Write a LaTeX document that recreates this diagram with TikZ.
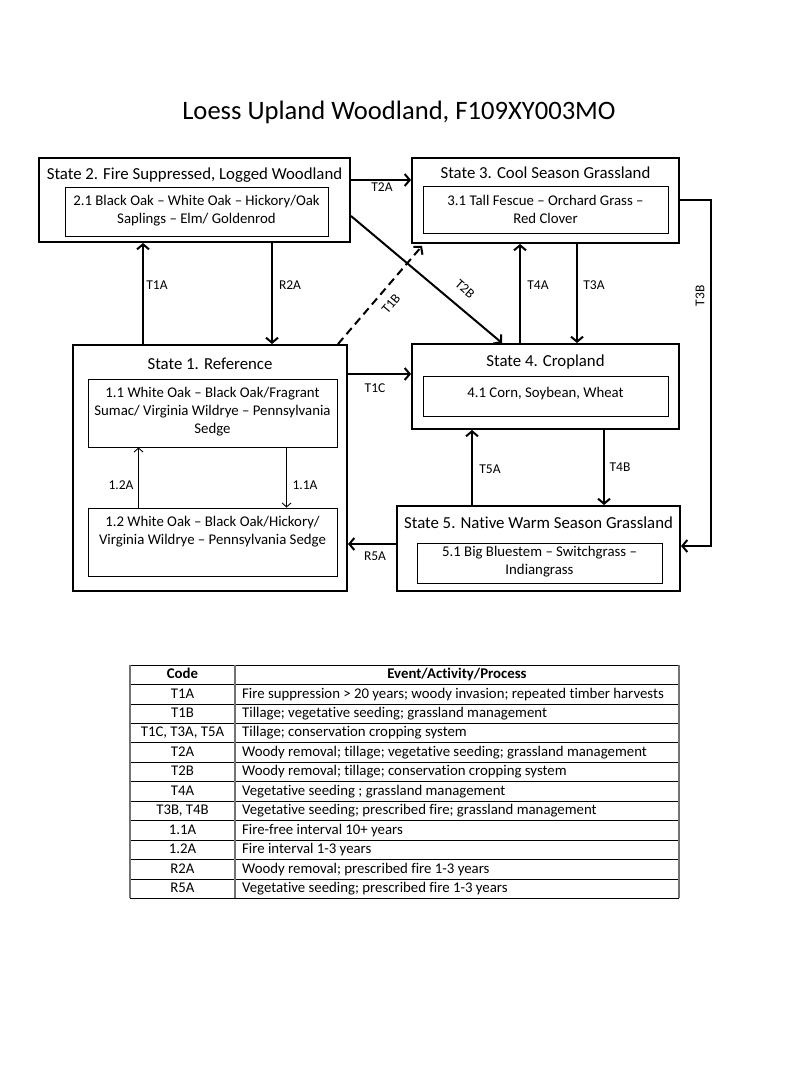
\documentclass[tikz,border=0pt]{standalone}
\usepackage{fontspec}
\setmainfont{Carlito}[Ligatures={NoCommon,TeX}]
\usetikzlibrary{arrows.meta}
\begin{document}
\begin{tikzpicture}[x=1pt,y=-1pt,
  statebox/.style={draw,line width=2pt,inner sep=0pt},
  innerbox/.style={draw,line width=0.9pt,inner sep=0pt},
  stitle/.style={inner sep=0pt,font=\fontsize{16.8}{19}\selectfont},
  itext/.style={inner sep=0pt,align=center,font=\fontsize{14.8}{18}\selectfont},
  lbl/.style={inner sep=0pt,font=\fontsize{13.5}{15}\selectfont},
  arr/.style={line width=2pt,-{Straight Barb[length=5pt,width=12pt]}},
  tarr/.style={line width=0.9pt,-{Straight Barb[length=4pt,width=9pt]}},
  tcell/.style={inner sep=0pt,text height=9pt,text depth=3pt,font=\fontsize{14.8}{16}\selectfont},
  tbold/.style={tcell,font=\fontsize{14.8}{16}\bfseries},
  hline/.style={line width=0.8pt,black},
  vline/.style={line width=1.5pt,black!55}
]
\useasboundingbox (0,0) rectangle (800,1067);
\fill[white] (0,0) rectangle (800,1067);

% title
\node[inner sep=0pt,font=\fontsize{26.6}{31}\selectfont] (title) at (399,112) {Loess Upland Woodland, F109XY003MO};

% State 2
\node[statebox,minimum width=311pt,minimum height=84pt] (s2) at (194.5,200) {};
\node[stitle] (s2t) at (194.5,175) {State 2. Fire Suppressed, Logged Woodland};
\node[innerbox,minimum width=263pt,minimum height=49pt] (i21) at (196.5,211.5) {};
\node[itext] (i21t) at (196.5,211) {2.1 Black Oak -- White Oak -- Hickory/Oak\\Saplings -- Elm/ Goldenrod};

% State 3
\node[statebox,minimum width=267pt,minimum height=85pt] (s3) at (545.5,200.5) {};
\node[stitle] (s3t) at (545.5,173) {State 3. Cool Season Grassland};
\node[innerbox,minimum width=245pt,minimum height=47pt] (i31) at (545.5,209.5) {};
\node[itext] (i31t) at (545.5,209.5) {3.1 Tall Fescue -- Orchard Grass --\\Red Clover};

% State 1
\node[statebox,minimum width=274pt,minimum height=246pt] (s1) at (210,468) {};
\node[stitle] (s1t) at (210,364) {State 1. Reference};
\node[innerbox,minimum width=249pt,minimum height=68pt] (i11) at (212.5,413) {};
\node[itext] (i11t) at (212.5,412) {1.1 White Oak -- Black Oak/Fragrant\\Sumac/ Virginia Wildrye -- Pennsylvania\\Sedge};
\node[innerbox,minimum width=249pt,minimum height=68pt] (i12) at (212.5,542) {};
\node[itext] (i12t) at (212.5,532) {1.2 White Oak -- Black Oak/Hickory/\\Virginia Wildrye -- Pennsylvania Sedge};

% State 4
\node[statebox,minimum width=267pt,minimum height=85pt] (s4) at (545.5,386.5) {};
\node[stitle] (s4t) at (545.5,362) {State 4. Cropland};
\node[innerbox,minimum width=245pt,minimum height=40pt] (i41) at (545.5,396) {};
\node[itext] (i41t) at (545.5,394) {4.1 Corn, Soybean, Wheat};

% State 5
\node[statebox,minimum width=283pt,minimum height=85pt] (s5) at (538.5,548.5) {};
\node[stitle] (s5t) at (538.5,523) {State 5. Native Warm Season Grassland};
\node[innerbox,minimum width=245pt,minimum height=40pt] (i51) at (539.5,563) {};
\node[itext] (i51t) at (539.5,562) {5.1 Big Bluestem -- Switchgrass --\\Indiangrass};

% connectors
\coordinate (t2a) at ([yshift=-23pt]s2.north east);
\draw[arr] (t2a) -- (t2a -| s3.west);
\node[lbl] at (382,187) {T2A};

\coordinate (t1a) at ([xshift=71pt]s1.north west);
\draw[arr] (t1a) -- (t1a |- s2.south);
\node[lbl] at (157,285) {T1A};

\coordinate (r2a) at ([xshift=234pt]s2.south west);
\draw[arr] (r2a) -- (r2a |- s1.north);
\node[lbl] at (290,285) {R2A};

\coordinate (t1bs) at ([xshift=-10pt]s1.north east);
\coordinate (t1be) at ([xshift=11pt,yshift=-2pt]s3.south west);
\draw[arr,dash pattern=on 8pt off 5pt] (t1bs) -- (t1be);
\node[lbl,rotate=50] at (391,304) {T1B};

\coordinate (t2bs) at ([yshift=-59pt]s2.north east);
\coordinate (t2be) at ([xshift=91pt]s4.north west);
\draw[arr] (t2bs) -- (t2be);
\node[lbl,rotate=-41] at (465,289) {T2B};

\coordinate (t4a) at ([xshift=109pt]s4.north west);
\draw[arr] (t4a) -- (t4a |- s3.south);
\node[lbl] at (538,285) {T4A};

\coordinate (t3a) at ([xshift=166pt]s3.south west);
\draw[arr] (t3a) -- (t3a |- s4.north);
\node[lbl] at (594,285) {T3A};

\coordinate (t1c) at ([yshift=-30pt]s1.north east);
\draw[arr] (t1c) -- (t1c -| s4.west);
\node[lbl] at (375,388) {T1C};

\coordinate (t5a) at ([xshift=76pt]s5.north west);
\draw[arr] (t5a) -- (t5a |- s4.south);
\node[lbl] at (490,469) {T5A};

\coordinate (t4b) at ([xshift=193pt]s4.south west);
\draw[arr] (t4b) -- (t4b |- s5.north);
\node[lbl] at (620,467) {T4B};

\coordinate (r5a) at ([yshift=-39pt]s5.north west);
\draw[arr] (r5a) -- (r5a -| s1.east);
\node[lbl] at (375,556) {R5A};

\coordinate (t3bs) at ([yshift=-43pt]s3.north east);
\coordinate (t3be) at ([yshift=-41pt]s5.north east);
\draw[arr] (t3bs) -- ++(31,0) |- (t3be);
\node[lbl,rotate=90] at (700,296) {T3B};

\coordinate (a12) at ([xshift=51pt]i12.north west);
\draw[tarr] (a12) -- (a12 |- i11.south);
\node[lbl] at (121,485) {1.2A};

\coordinate (a11) at ([xshift=199pt]i11.south west);
\draw[tarr] (a11) -- (a11 |- i12.north);
\node[lbl] at (305,485) {1.1A};

% table
\foreach \k in {0,...,12} {
  \draw[hline] (130,{665+19.45*\k}) -- (679,{665+19.45*\k});
}
\draw[vline] (130,665) -- (130,898.4);
\draw[vline] (235,665) -- (235,898.4);
\draw[vline] (679,665) -- (679,898.4);

\node[tbold] (c0) at (182.5,675.5) {Code};
\node[tbold] (e0) at (457,675.5) {Event/Activity/Process};
\node[tcell] (c1) at (182.5,695) {T1A};
\node[tcell,anchor=west] (e1) at (242,695) {Fire suppression > 20 years; woody invasion; repeated timber harvests};
\node[tcell] (c2) at (182.5,714.4) {T1B};
\node[tcell,anchor=west] (e2) at (242,714.4) {Tillage; vegetative seeding; grassland management};
\node[tcell] (c3) at (182.5,733.9) {T1C, T3A, T5A};
\node[tcell,anchor=west] (e3) at (242,733.9) {Tillage; conservation cropping system};
\node[tcell] (c4) at (182.5,753.3) {T2A};
\node[tcell,anchor=west] (e4) at (242,753.3) {Woody removal; tillage; vegetative seeding; grassland management};
\node[tcell] (c5) at (182.5,772.8) {T2B};
\node[tcell,anchor=west] (e5) at (242,772.8) {Woody removal; tillage; conservation cropping system};
\node[tcell] (c6) at (182.5,792.2) {T4A};
\node[tcell,anchor=west] (e6) at (242,792.2) {Vegetative seeding ; grassland management};
\node[tcell] (c7) at (182.5,811.7) {T3B, T4B};
\node[tcell,anchor=west] (e7) at (242,811.7) {Vegetative seeding; prescribed fire; grassland management};
\node[tcell] (c8) at (182.5,831.1) {1.1A};
\node[tcell,anchor=west] (e8) at (242,831.1) {Fire-free interval 10+ years};
\node[tcell] (c9) at (182.5,850.6) {1.2A};
\node[tcell,anchor=west] (e9) at (242,850.6) {Fire interval 1-3 years};
\node[tcell] (c10) at (182.5,870) {R2A};
\node[tcell,anchor=west] (e10) at (242,870) {Woody removal; prescribed fire 1-3 years};
\node[tcell] (c11) at (182.5,889.5) {R5A};
\node[tcell,anchor=west] (e11) at (242,889.5) {Vegetative seeding; prescribed fire 1-3 years};
\end{tikzpicture}
\end{document}
